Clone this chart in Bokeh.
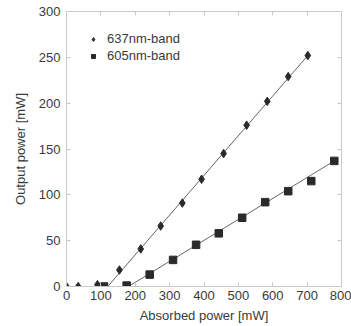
from bokeh.plotting import figure
from bokeh.models import LinearAxis, Legend, LegendItem, FixedTicker, Range1d
from bokeh.embed import file_html
from bokeh.resources import INLINE

# data
x637 = [0, 34, 90, 154, 216, 274, 337, 393, 457, 524, 584, 645, 702]
y637 = [0, 0, 2, 18, 41, 66, 91, 117, 145, 176, 202, 229, 252]
fit637_x = [120, 702]
fit637_y = [0, 252]

x605 = [109, 175, 242, 310, 377, 443, 511, 578, 645, 712, 779]
y605 = [0, 1, 13, 29, 45.5, 58, 75, 92, 104, 115, 137]
fit605_x = [180, 779]
fit605_y = [0, 137]

xticks = [0, 100, 200, 300, 400, 500, 600, 700, 800]
yticks = [0, 50, 100, 150, 200, 250, 300]

FRAME = "#c8c8c8"
TXT = "#3a3a3a"
MARK = "#2a2a2a"
FONT = "Liberation Sans"

p = figure(width=351, height=326, output_backend="svg", toolbar_location=None,
           x_range=Range1d(0, 800), y_range=Range1d(0, 300),
           min_border_left=66, min_border_right=10, min_border_top=11, min_border_bottom=40)
p.xgrid.visible = False
p.ygrid.visible = False
p.outline_line_color = FRAME
p.outline_line_width = 1
p.background_fill_color = "white"
p.border_fill_color = "white"

for ax, ticks in ((p.xaxis[0], xticks), (p.yaxis[0], yticks)):
    ax.ticker = FixedTicker(ticks=ticks)
    ax.axis_line_color = FRAME
    ax.major_tick_line_color = FRAME
    ax.major_tick_in = 4
    ax.major_tick_out = 0
    ax.minor_tick_line_color = None
    ax.major_label_text_font = FONT
    ax.major_label_text_font_size = "13px"
    ax.major_label_text_color = TXT
    ax.axis_label_text_font = FONT
    ax.axis_label_text_font_size = "13px"
    ax.axis_label_text_font_style = "normal"
    ax.axis_label_text_color = TXT
p.xaxis[0].axis_label = "Absorbed power [mW]"
p.yaxis[0].axis_label = "Output power [mW]"
p.xaxis[0].major_label_standoff = 4
p.yaxis[0].major_label_standoff = 6
p.xaxis[0].axis_label_standoff = 5
p.yaxis[0].axis_label_standoff = 8

for loc, ticks in (("above", xticks), ("right", yticks)):
    a = LinearAxis(ticker=FixedTicker(ticks=ticks), axis_line_color=FRAME,
                   major_tick_line_color=FRAME, major_tick_in=4, major_tick_out=0,
                   minor_tick_line_color=None,
                   major_label_overrides={t: "" for t in ticks},
                   major_label_standoff=0)
    p.add_layout(a, loc)

p.line(fit637_x, fit637_y, line_color="#666666", line_width=1)
p.line(fit605_x, fit605_y, line_color="#666666", line_width=1)
r637 = p.scatter(x637, y637, marker="diamond", size=8.5, fill_color=MARK, line_color=MARK)
r605 = p.scatter(x605, y605, marker="square", size=7.5, fill_color=MARK, line_color=MARK)

legend = Legend(items=[LegendItem(label="637nm-band", renderers=[r637]),
                       LegendItem(label="605nm-band", renderers=[r605])],
                location="top_left", border_line_color=None, background_fill_alpha=0,
                margin=20, padding=3, glyph_width=14, glyph_height=10, label_height=10,
                spacing=2, label_standoff=7,
                label_text_font=FONT, label_text_font_size="13px", label_text_color=TXT)
p.add_layout(legend)

open("out.html", "w").write(file_html(p, INLINE))
